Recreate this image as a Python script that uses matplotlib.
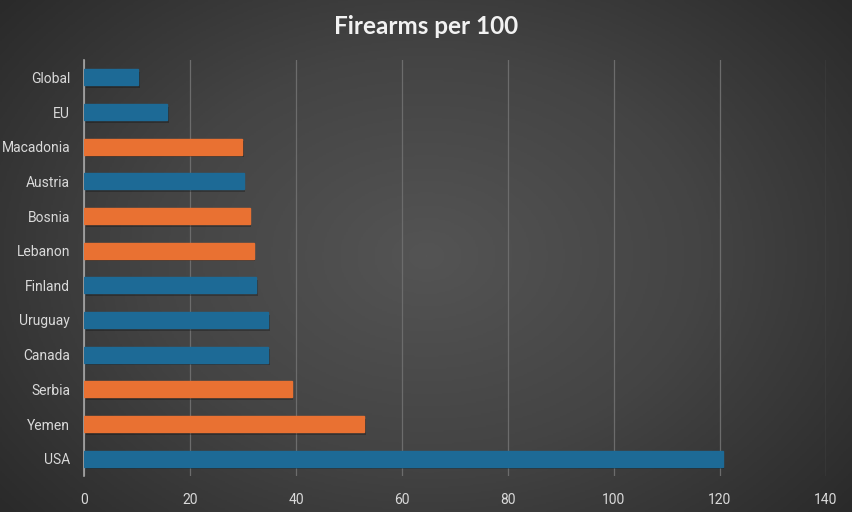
import numpy as np
import matplotlib.pyplot as plt

# data (top to bottom as shown)
countries = ['Global', 'EU', 'Macadonia', 'Austria', 'Bosnia', 'Lebanon',
             'Finland', 'Uruguay', 'Canada', 'Serbia', 'Yemen', 'USA']
firearms = [10.2, 15.7, 29.8, 30.1, 31.3, 32.0, 32.5, 34.8, 34.8, 39.2, 52.9, 120.5]
group = ['b', 'b', 'o', 'b', 'o', 'o', 'b', 'b', 'b', 'o', 'o', 'b']

colors = {'b': '#1d6a96', 'o': '#e97132'}

fig = plt.figure(figsize=(8.53, 5.12), dpi=100)

# radial background
bg = fig.add_axes([0, 0, 1, 1])
yy, xx = np.mgrid[-1:1:300j, -1:1:500j]
r = np.sqrt((xx * 0.85) ** 2 + (yy * 0.7) ** 2)
bg.imshow(r, cmap=plt.matplotlib.colors.LinearSegmentedColormap.from_list(
    'bg', ['#545454', '#444444', '#2a2a2a']), vmin=0, vmax=1.1,
    aspect='auto', extent=[0, 1, 0, 1])
bg.set_axis_off()

ax = fig.add_axes([84 / 853, 1 - 476 / 512, (826 - 84) / 853, (476 - 60) / 512])
ax.patch.set_alpha(0)

y = np.arange(len(countries))
h = 0.46
# soft shadow
ax.barh(y + 0.08, firearms, height=h, left=0.3, color='black', alpha=0.25, zorder=2)
ax.barh(y, firearms, height=h, color=[colors[g] for g in group],
        edgecolor=[colors[g] for g in group], zorder=3)

ax.set_xlim(0, 140)
ax.set_ylim(len(countries) - 0.5, -0.5)
ax.set_xticks(np.arange(0, 141, 20))
ax.set_yticks(y)
ax.set_yticklabels(countries)
ax.grid(axis='x', color='#6c6c6c', linewidth=0.9, zorder=0)
ax.set_axisbelow(True)
for s in ['top', 'right', 'bottom']:
    ax.spines[s].set_visible(False)
ax.spines['left'].set_color('#a6a6a6')
ax.spines['left'].set_linewidth(1.2)
ax.tick_params(axis='y', length=0, colors='#d9d9d9', labelsize=10, pad=10)
ax.tick_params(axis='x', length=0, colors='#d9d9d9', labelsize=10, pad=12)
for lab in ax.get_xticklabels() + ax.get_yticklabels():
    lab.set_fontfamily('Roboto')

fig.text(0.5, 1 - 27 / 512, 'Firearms per 100', ha='center', va='center',
         fontsize=17.5, fontweight='bold', color='#f2f2f2', fontfamily='Lato')

fig.savefig('out.png', dpi=100)
